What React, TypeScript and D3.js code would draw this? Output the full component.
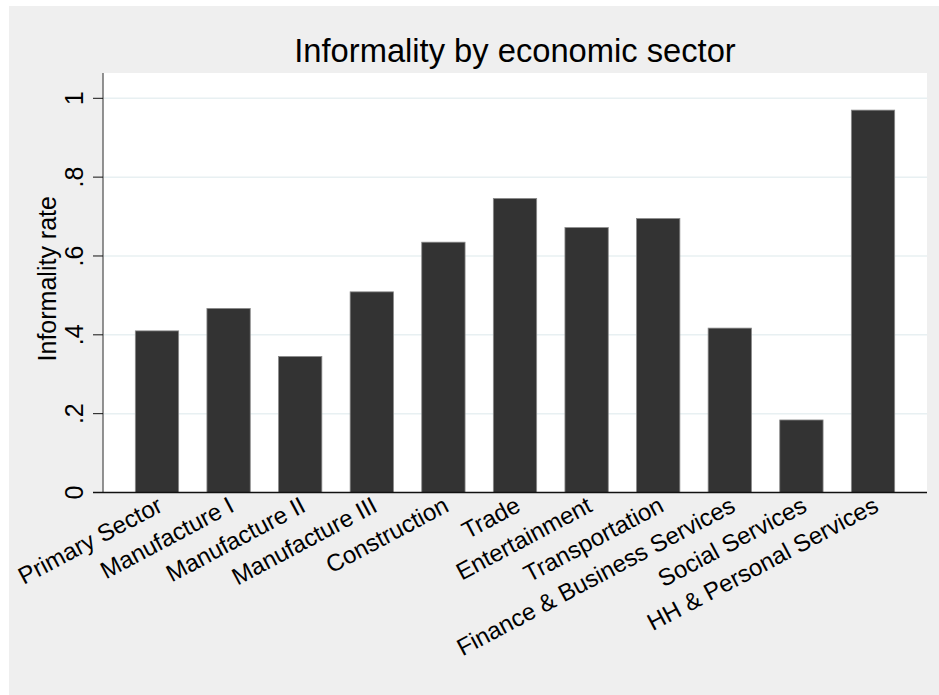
import React from "react";
import * as d3 from "d3";

const categories = [
  "Primary Sector",
  "Manufacture I",
  "Manufacture II",
  "Manufacture III",
  "Construction",
  "Trade",
  "Entertainment",
  "Transportation",
  "Finance & Business Services",
  "Social Services",
  "HH & Personal Services",
];
const values = [0.41, 0.467, 0.345, 0.509, 0.635, 0.746, 0.672, 0.695, 0.417, 0.184, 0.97];
const yTicks = [0, 0.2, 0.4, 0.6, 0.8, 1];
const yTickLabels = ["0", ".2", ".4", ".6", ".8", "1"];
const title = "Informality by economic sector";
const yTitle = "Informality rate";

const W = 939;
const H = 695;
const plot = { left: 103, right: 927, top: 73, bottom: 492.5 };
const FONT = "'Liberation Sans', Arial, sans-serif";

export default function App() {
  const x = d3
    .scaleBand<string>()
    .domain(categories)
    .range([plot.left, plot.right])
    .paddingInner(0.395)
    .paddingOuter(0.4515);
  const y = d3.scaleLinear().domain([0, 1]).range([492.5, 98.3]);

  return (
    <svg
      width={W}
      height={H}
      style={{ position: "absolute", left: 0, top: 0 }}
      fontFamily={FONT}
    >
      <rect x={0} y={0} width={W} height={H} fill="#ffffff" />
      <rect x={9} y={6} width={W - 9} height={H - 6} fill="#efefef" />
      <rect
        x={plot.left}
        y={plot.top}
        width={plot.right - plot.left}
        height={plot.bottom - plot.top}
        fill="#ffffff"
      />
      {yTicks.slice(1).map((t) => (
        <line
          key={"g" + t}
          x1={plot.left}
          x2={plot.right}
          y1={y(t)}
          y2={y(t)}
          stroke="#e8f0f2"
          strokeWidth={1.5}
        />
      ))}
      {categories.map((c, i) => (
        <rect
          key={c}
          x={x(c)}
          y={y(values[i])}
          width={x.bandwidth()}
          height={y(0) - y(values[i])}
          fill="#333333"
          stroke="#8a8a8a"
          strokeWidth={0.8}
        />
      ))}
      <line
        x1={plot.left}
        x2={plot.left}
        y1={plot.top}
        y2={plot.bottom}
        stroke="#6e6e6e"
        strokeWidth={1.5}
      />
      <line
        x1={plot.left - 10}
        x2={plot.right}
        y1={plot.bottom}
        y2={plot.bottom}
        stroke="#111111"
        strokeWidth={1.5}
      />
      {yTicks.map((t, i) => (
        <g key={"t" + t}>
          <line x1={plot.left - 10} x2={plot.left} y1={y(t)} y2={y(t)} stroke="#111" strokeWidth={1} />
          <text
            transform={`translate(83,${y(t)}) rotate(-90)`}
            textAnchor="middle"
            fontSize={25}
            fill="#000"
          >
            {yTickLabels[i]}
          </text>
        </g>
      ))}
      <text
        transform={`translate(56,${(plot.top + plot.bottom) / 2 - 4}) rotate(-90)`}
        textAnchor="middle"
        fontSize={25}
        fill="#000"
      >
        {yTitle}
      </text>
      <text x={(plot.left + plot.right) / 2} y={61.7} textAnchor="middle" fontSize={32.7} fill="#000">
        {title}
      </text>
      {categories.map((c) => (
        <text
          key={"l" + c}
          transform={`translate(${(x(c) as number) + x.bandwidth() / 2 + 7},${plot.bottom + 18}) rotate(-28)`}
          textAnchor="end"
          fontSize={24}
          fill="#000"
        >
          {c}
        </text>
      ))}
    </svg>
  );
}
